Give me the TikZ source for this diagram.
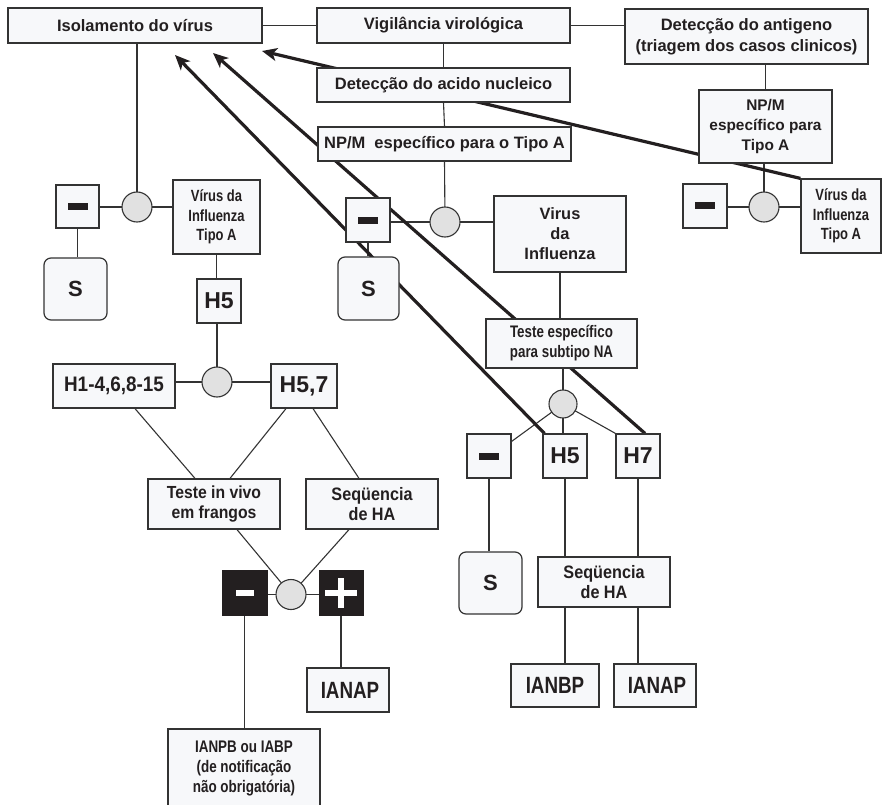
\documentclass[tikz,border=0pt]{standalone}
\usepackage{fontspec}
\setmainfont{Liberation Sans}
\newfontfamily\cnd{Liberation Sans}[FakeStretch=0.8]
\newfontfamily\cnb{Liberation Sans}[FakeStretch=0.9]
\usetikzlibrary{arrows.meta,calc}
\definecolor{boxfill}{HTML}{F7F8FA}
\definecolor{circfill}{HTML}{E1E1E1}
\definecolor{edge}{HTML}{333333}
\definecolor{ink}{HTML}{231F20}
\pgfdeclarelayer{bg}
\pgfsetlayers{bg,main}
\begin{document}
\begin{tikzpicture}[x=1pt,y=-1pt,
  box/.style={draw=edge, fill=boxfill, line width=1.2pt, inner sep=0pt, align=center, text=ink, font=\bfseries},
  rbox/.style={box, rounded corners=7pt},
  dot/.style={circle, draw=edge, fill=circfill, line width=1.1pt, minimum size=30pt, inner sep=0pt},
  conn/.style={draw=edge, line width=1.1pt},
  bigarrow/.style={draw=ink, line width=3.2pt, -{Stealth[length=15pt,width=13pt,inset=4pt]}},
  minusbox/.style={box, minimum width=44pt, minimum height=44pt,
    path picture={\fill[ink] ([shift={(-10pt,-3.5pt)}]path picture bounding box.center) rectangle ([shift={(10pt,3.5pt)}]path picture bounding box.center);}},
  blackminus/.style={draw=ink, fill=ink, line width=1pt, minimum width=45pt, minimum height=45pt, inner sep=0pt,
    path picture={\fill[white] ([shift={(-9pt,-3pt)}]path picture bounding box.center) rectangle ([shift={(9pt,3pt)}]path picture bounding box.center);}},
  blackplus/.style={draw=ink, fill=ink, line width=1pt, minimum width=44pt, minimum height=45pt, inner sep=0pt,
    path picture={\fill[white] ([shift={(-16pt,-3pt)}]path picture bounding box.center) rectangle ([shift={(16pt,3pt)}]path picture bounding box.center);
      \fill[white] ([shift={(-3pt,-15pt)}]path picture bounding box.center) rectangle ([shift={(3pt,15pt)}]path picture bounding box.center);}},
  fa/.style={font=\bfseries\fontsize{16.5pt}{21pt}\selectfont},
  fb/.style={font=\bfseries\fontsize{15.4pt}{20pt}\selectfont},
  fc/.style={font=\cnd\bfseries\fontsize{16.2pt}{19.5pt}\selectfont},
  fd/.style={font=\bfseries\fontsize{16.4pt}{20pt}\selectfont},
  fe/.style={font=\cnd\bfseries\fontsize{16.7pt}{20pt}\selectfont},
  fseq/.style={font=\cnb\bfseries\fontsize{18pt}{19.5pt}\selectfont},
  ftiv/.style={font=\cnb\bfseries\fontsize{17.5pt}{19.5pt}\selectfont},
  fS/.style={font=\bfseries\fontsize{22pt}{24pt}\selectfont},
  fH/.style={font=\bfseries\fontsize{23pt}{25pt}\selectfont},
  fH1/.style={font=\cnb\bfseries\fontsize{21pt}{23pt}\selectfont},
  fI/.style={font=\cnd\bfseries\fontsize{23.5pt}{25pt}\selectfont},
  fIp/.style={font=\cnd\bfseries\fontsize{16.8pt}{20pt}\selectfont}
]
\useasboundingbox (0,0) rectangle (883,805);

% top row
\node[box, fa, minimum width=254pt, minimum height=35pt] (iso) at (135,25.5) {Isolamento do vírus};
\node[box, fa, minimum width=253pt, minimum height=35pt] (vig) at (443.5,25.5) {Vigilância virológica};
\node[box, fa, minimum width=243pt, minimum height=55pt] (ant) at (746.5,36.5) {Detecção do antigeno\\(triagem dos casos clinicos)};
\node[box, fa, minimum width=253pt, minimum height=34pt] (acn) at (443.5,85) {Detecção do acido nucleico};
\node[box, fa, minimum width=253pt, minimum height=34pt] (npm) at (444.5,144) {NP/M~ específico para o Tipo A};
\node[box, fb, minimum width=133pt, minimum height=73pt] (npmr) at (765.5,126.5) {NP/M\\específico para\\Tipo A};

% left branch
\node[dot] (c1) at (137,207) {};
\node[minusbox, minimum width=43pt, minimum height=43pt] (m1) at (77.5,206.5) {};
\node[box, fc, minimum width=87pt, minimum height=74pt] (via) at (216.5,217) {Vírus da\\Influenza\\Tipo A};
\node[rbox, fS, minimum width=63pt, minimum height=62pt] (s1) at (75.5,289) {S};
\node[box, fH, minimum width=44pt, minimum height=44pt] (h5a) at (219,301) {H5};
\node[dot] (c2) at (217,382) {};
\node[box, fH1, minimum width=122pt, minimum height=44pt] (h1) at (114,386) {H1-4,6,8-15};
\node[box, fH, minimum width=66pt, minimum height=44pt] (h57) at (304,386) {H5,7};
\node[box, ftiv, minimum width=132pt, minimum height=50pt] (tiv) at (214,504) {Teste in vivo\\em frangos};
\node[box, fseq, minimum width=132pt, minimum height=50pt] (seq1) at (372,504) {Seqüencia\\de HA};
\node[dot] (c3) at (291,594.5) {};
\node[blackminus] (bm) at (244.5,592.5) {};
\node[blackplus] (bp) at (341,592.5) {};
\node[box, fI, minimum width=82pt, minimum height=44pt] (ianap1) at (348,690) {\hspace*{4pt}IANAP};
\node[box, fIp, minimum width=152pt, minimum height=78pt] (ianpb) at (244,768) {IANPB ou IABP\\(de notificação\\não obrigatória)};

% middle branch
\node[dot] (c4) at (445,222) {};
\node[minusbox] (m2) at (368,220) {};
\node[rbox, fS, minimum width=61pt, minimum height=63pt] (s2) at (368.5,288.5) {S};
\node[box, fd, minimum width=132pt, minimum height=76pt] (vi) at (560,234) {Virus\\da\\Influenza};
\node[box, fe, minimum width=151pt, minimum height=49pt] (tes) at (561.5,343.5) {Teste específico\\para subtipo NA};
\node[dot, minimum size=28pt] (c5) at (563,404) {};
\node[minusbox] (m3) at (489,456) {};
\node[box, fH, minimum width=44pt, minimum height=44pt] (h5b) at (565,456) {H5};
\node[box, fH, minimum width=44pt, minimum height=44pt] (h7) at (638,456) {H7};
\node[rbox, fS, minimum width=63pt, minimum height=62pt] (s3) at (490.5,583) {S};
\node[box, fseq, minimum width=132pt, minimum height=50pt] (seq2) at (604,582) {Seqüencia\\de HA};
\node[box, fI, minimum width=88pt, minimum height=43pt] (ianbp) at (555,685.5) {IANBP};
\node[box, fI, minimum width=82pt, minimum height=43pt] (ianap2) at (655,685.5) {\hspace*{4pt}IANAP};

% right branch
\node[minusbox] (m4) at (705,206) {};
\node[dot] (c6) at (764,207) {};
\node[box, fc, minimum width=80pt, minimum height=74pt] (vir) at (841,216) {Vírus da\\Influenza\\Tipo A};

\coordinate (t1) at (262,51);
\coordinate (t2) at (213,53);
\coordinate (t3) at (175,55);

\begin{pgfonlayer}{bg}
  % top connectors
  \draw[conn] (iso.east) -- (vig.west);
  \draw[conn] (vig.east) -- (vig.east -| ant.west);
  \draw[conn] (vig.south) -- (acn.north);
  \draw[conn] (acn.south) -- (npm.north);
  \draw[conn] (npm.south) -- (c4.center);
  \draw[conn] (npmr.north |- ant.south) -- (npmr.north);
  \draw[conn] (npmr.south -| c6) -- (c6.center);
  % right
  \draw[conn] (m4.east |- c6) -- (c6.center) -- (c6 -| vir.west);
  % left
  \draw[conn] (c1.center) -- (c1 |- iso.south);
  \draw[conn] (m1.east |- c1) -- (c1.center) -- (c1 -| via.west);
  \draw[conn] (m1.south) -- (m1.south |- s1.north);
  \draw[conn] (via.south) -- (via.south |- h5a.north);
  \draw[conn] (c2 |- h5a.south) -- (c2.center);
  \draw[conn] (h1.east |- c2) -- (c2.center) -- (c2 -| h57.west);
  \draw[conn] ([xshift=21pt]h1.south) -- ([xshift=-19pt]tiv.north);
  \draw[conn] ([xshift=-18pt]h57.south) -- ([xshift=16pt]tiv.north);
  \draw[conn] ([xshift=9pt]h57.south) -- ([xshift=-13pt]seq1.north);
  \draw[conn] ([xshift=23pt]tiv.south) -- (c3.center);
  \draw[conn] ([xshift=-23pt]seq1.south) -- (c3.center);
  \draw[conn] (bm.east |- c3) -- (c3.center) -- (c3 -| bp.west);
  \draw[conn] (bp.south) -- (bp.south |- ianap1.north);
  \draw[conn] (bm.south) -- (bm.south |- ianpb.north);
  % middle
  \draw[conn] (m2.east |- c4) -- (c4.center) -- (c4 -| vi.west);
  \draw[conn] (m2.south) -- (m2.south |- s2.north);
  \draw[conn] (vi.south) -- (vi.south |- tes.north);
  \draw[conn] (c5 |- tes.south) -- (c5.center);
  \draw[conn] (c5.center) -- ([yshift=-8pt]m3.north east);
  \draw[conn] (c5.center) -- (c5 |- h5b.north);
  \draw[conn] (c5.center) -- (h7.north west);
  \draw[conn] (m3.south) -- (m3.south |- s3.north);
  \draw[conn] (h5b.south) -- (h5b.south |- seq2.north);
  \draw[conn] (h7.south) -- (h7.south |- seq2.north);
  \draw[conn] (h5b.south |- seq2.south) -- (h5b.south |- ianbp.north);
  \draw[conn] (h7.south |- seq2.south) -- (h7.south |- ianap2.north);
  % thick arrows
  \draw[bigarrow] (vir.north west) -- (t1);
  \draw[bigarrow] ([xshift=7pt]h7.north) -- (t2);
  \draw[bigarrow] ([xshift=2pt]h5b.north west) -- (t3);
\end{pgfonlayer}
\end{tikzpicture}
\end{document}
